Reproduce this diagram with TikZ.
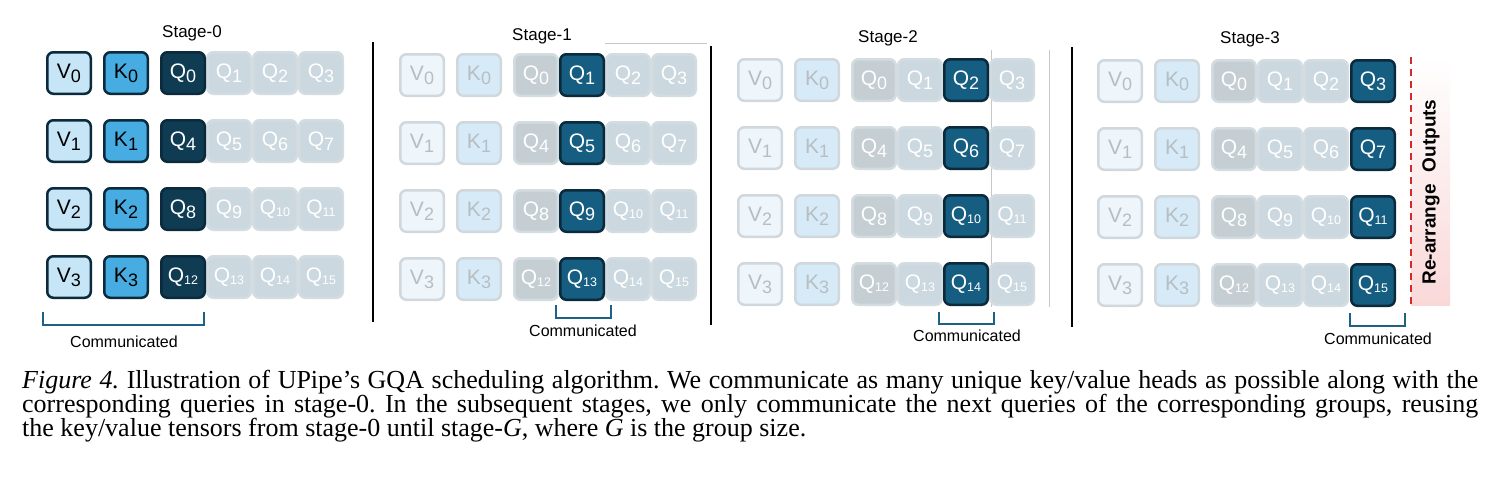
\documentclass[tikz,border=0pt]{standalone}
\usepackage{fontspec}
\setmainfont{Liberation Serif}
\newfontfamily\diagfont{Liberation Sans}
\usetikzlibrary{positioning}

\definecolor{edgedark}{HTML}{0B2B3C}
\definecolor{vfillc}{HTML}{C6E6F7}
\definecolor{kfillc}{HTML}{47ACE2}
\definecolor{qfirstc}{HTML}{0F3C52}
\definecolor{qnowc}{HTML}{165E81}
\definecolor{voldc}{HTML}{EEF6FB}
\definecolor{koldc}{HTML}{D6EBF7}
\definecolor{olddrawc}{HTML}{D0D8DD}
\definecolor{qolddrawc}{HTML}{D3DCE1}
\definecolor{oldtextc}{HTML}{B7BEC2}
\definecolor{qgrayc}{HTML}{C5CED3}
\definecolor{qpalec}{HTML}{CBD8DF}
\definecolor{bracec}{HTML}{1F6185}
\definecolor{outredc}{HTML}{D42A2A}
\definecolor{outpinkc}{HTML}{FAD8D8}

\newcommand\hsub[2]{#1\raisebox{-4pt}{\fontsize{18}{18}\selectfont#2}}
\newcommand\hsubb[2]{#1\raisebox{-2pt}{\fontsize{12.5}{12.5}\selectfont#2}}

\tikzset{
  head/.style={rounded corners=6pt, minimum width=43.5pt, minimum height=41.5pt,
    inner sep=0pt, line width=2.5pt, font=\diagfont\fontsize{21}{21}\selectfont},
  vnew/.style={head, fill=vfillc, draw=edgedark},
  knew/.style={head, fill=kfillc, draw=edgedark},
  qfirst/.style={head, fill=qfirstc, draw=edgedark, text=white},
  qnow/.style={head, fill=qnowc, draw=edgedark, text=white},
  vold/.style={head, fill=voldc, draw=olddrawc, text=oldtextc},
  kold/.style={head, fill=koldc, draw=olddrawc, text=oldtextc},
  qgray/.style={head, fill=qgrayc, draw=qolddrawc, text=white},
  qpale/.style={head, fill=qpalec, draw=qolddrawc, text=white},
  stagetitle/.style={anchor=base, font=\diagfont\fontsize{17}{17}\selectfont},
  commlabel/.style={anchor=base, font=\diagfont\fontsize{16}{16}\selectfont},
  commbrace/.style={draw=bracec, line width=2pt},
  stagesep/.style={line width=2.5pt},
  faint/.style={line width=0.8pt, black!22}
}

\begin{document}
\begin{tikzpicture}[x=1pt, y=-1pt]
\useasboundingbox (0,0) rectangle (1491,480);

% separators and stray guide lines
\draw[stagesep] (373,42) -- (373,322);
\draw[stagesep] (711,46) -- (711,325);
\draw[stagesep] (1072,47) -- (1072,327);
\draw[faint] (605,43) -- (707,43);
\draw[faint] (991,50) -- (991,307);
\draw[faint] (1049,50) -- (1049,307);

% titles
\node[stagetitle] (t0) at (192,37) {Stage-0};
\node[stagetitle] (t1) at (542,40) {Stage-1};
\node[stagetitle] (t2) at (888,42) {Stage-2};
\node[stagetitle] (t3) at (1250,43) {Stage-3};

% stage 0
\begin{scope}[shift={(69,73)}]
\node[vnew] (s0v0) at (0,0) {\hsub{V}{0}};
\node[knew] (s0k0) at (57,0) {\hsub{K}{0}};
\node[qpale] (s0q1) at (160,0) {\hsub{Q}{1}};
\node[qpale] (s0q2) at (206,0) {\hsub{Q}{2}};
\node[qpale] (s0q3) at (252,0) {\hsub{Q}{3}};
\node[qfirst] (s0q0) at (114,0) {\hsub{Q}{0}};

\node[vnew] (s0v1) at (0,68) {\hsub{V}{1}};
\node[knew] (s0k1) at (57,68) {\hsub{K}{1}};
\node[qpale] (s0q5) at (160,68) {\hsub{Q}{5}};
\node[qpale] (s0q6) at (206,68) {\hsub{Q}{6}};
\node[qpale] (s0q7) at (252,68) {\hsub{Q}{7}};
\node[qfirst] (s0q4) at (114,68) {\hsub{Q}{4}};

\node[vnew] (s0v2) at (0,136) {\hsub{V}{2}};
\node[knew] (s0k2) at (57,136) {\hsub{K}{2}};
\node[qpale] (s0q9) at (160,136) {\hsub{Q}{9}};
\node[qpale] (s0q10) at (206,136) {\hsubb{Q}{10}};
\node[qpale] (s0q11) at (252,136) {\hsubb{Q}{11}};
\node[qfirst] (s0q8) at (114,136) {\hsub{Q}{8}};

\node[vnew] (s0v3) at (0,204) {\hsub{V}{3}};
\node[knew] (s0k3) at (57,204) {\hsub{K}{3}};
\node[qpale] (s0q13) at (160,204) {\hsubb{Q}{13}};
\node[qpale] (s0q14) at (206,204) {\hsubb{Q}{14}};
\node[qpale] (s0q15) at (252,204) {\hsubb{Q}{15}};
\node[qfirst] (s0q12) at (114,204) {\hsubb{Q}{12}};
\end{scope}

% stage 1
\begin{scope}[shift={(422,75)}]
\node[vold] (s1v0) at (0,0) {\hsub{V}{0}};
\node[kold] (s1k0) at (57,0) {\hsub{K}{0}};
\node[qgray] (s1q0) at (114,0) {\hsub{Q}{0}};
\node[qpale] (s1q2) at (206,0) {\hsub{Q}{2}};
\node[qpale] (s1q3) at (252,0) {\hsub{Q}{3}};
\node[qnow] (s1q1) at (160,0) {\hsub{Q}{1}};

\node[vold] (s1v1) at (0,68) {\hsub{V}{1}};
\node[kold] (s1k1) at (57,68) {\hsub{K}{1}};
\node[qgray] (s1q4) at (114,68) {\hsub{Q}{4}};
\node[qpale] (s1q6) at (206,68) {\hsub{Q}{6}};
\node[qpale] (s1q7) at (252,68) {\hsub{Q}{7}};
\node[qnow] (s1q5) at (160,68) {\hsub{Q}{5}};

\node[vold] (s1v2) at (0,136) {\hsub{V}{2}};
\node[kold] (s1k2) at (57,136) {\hsub{K}{2}};
\node[qgray] (s1q8) at (114,136) {\hsub{Q}{8}};
\node[qpale] (s1q10) at (206,136) {\hsubb{Q}{10}};
\node[qpale] (s1q11) at (252,136) {\hsubb{Q}{11}};
\node[qnow] (s1q9) at (160,136) {\hsub{Q}{9}};

\node[vold] (s1v3) at (0,204) {\hsub{V}{3}};
\node[kold] (s1k3) at (57,204) {\hsub{K}{3}};
\node[qgray] (s1q12) at (114,204) {\hsubb{Q}{12}};
\node[qpale] (s1q14) at (206,204) {\hsubb{Q}{14}};
\node[qpale] (s1q15) at (252,204) {\hsubb{Q}{15}};
\node[qnow] (s1q13) at (160,204) {\hsubb{Q}{13}};
\end{scope}

% stage 2
\begin{scope}[shift={(760,80)}]
\node[vold] (s2v0) at (0,0) {\hsub{V}{0}};
\node[kold] (s2k0) at (57,0) {\hsub{K}{0}};
\node[qgray] (s2q0) at (114,0) {\hsub{Q}{0}};
\node[qpale] (s2q1) at (160,0) {\hsub{Q}{1}};
\node[qpale] (s2q3) at (252,0) {\hsub{Q}{3}};
\node[qnow] (s2q2) at (206,0) {\hsub{Q}{2}};

\node[vold] (s2v1) at (0,68) {\hsub{V}{1}};
\node[kold] (s2k1) at (57,68) {\hsub{K}{1}};
\node[qgray] (s2q4) at (114,68) {\hsub{Q}{4}};
\node[qpale] (s2q5) at (160,68) {\hsub{Q}{5}};
\node[qpale] (s2q7) at (252,68) {\hsub{Q}{7}};
\node[qnow] (s2q6) at (206,68) {\hsub{Q}{6}};

\node[vold] (s2v2) at (0,136) {\hsub{V}{2}};
\node[kold] (s2k2) at (57,136) {\hsub{K}{2}};
\node[qgray] (s2q8) at (114,136) {\hsub{Q}{8}};
\node[qpale] (s2q9) at (160,136) {\hsub{Q}{9}};
\node[qpale] (s2q11) at (252,136) {\hsubb{Q}{11}};
\node[qnow] (s2q10) at (206,136) {\hsubb{Q}{10}};

\node[vold] (s2v3) at (0,204) {\hsub{V}{3}};
\node[kold] (s2k3) at (57,204) {\hsub{K}{3}};
\node[qgray] (s2q12) at (114,204) {\hsubb{Q}{12}};
\node[qpale] (s2q13) at (160,204) {\hsubb{Q}{13}};
\node[qpale] (s2q15) at (252,204) {\hsubb{Q}{15}};
\node[qnow] (s2q14) at (206,204) {\hsubb{Q}{14}};
\end{scope}

% stage 3
\begin{scope}[shift={(1120,81)}]
\node[vold] (s3v0) at (0,0) {\hsub{V}{0}};
\node[kold] (s3k0) at (57,0) {\hsub{K}{0}};
\node[qgray] (s3q0) at (114,0) {\hsub{Q}{0}};
\node[qpale] (s3q1) at (160,0) {\hsub{Q}{1}};
\node[qpale] (s3q2) at (206,0) {\hsub{Q}{2}};
\node[qnow] (s3q3) at (253,0) {\hsub{Q}{3}};

\node[vold] (s3v1) at (0,68) {\hsub{V}{1}};
\node[kold] (s3k1) at (57,68) {\hsub{K}{1}};
\node[qgray] (s3q4) at (114,68) {\hsub{Q}{4}};
\node[qpale] (s3q5) at (160,68) {\hsub{Q}{5}};
\node[qpale] (s3q6) at (206,68) {\hsub{Q}{6}};
\node[qnow] (s3q7) at (253,68) {\hsub{Q}{7}};

\node[vold] (s3v2) at (0,136) {\hsub{V}{2}};
\node[kold] (s3k2) at (57,136) {\hsub{K}{2}};
\node[qgray] (s3q8) at (114,136) {\hsub{Q}{8}};
\node[qpale] (s3q9) at (160,136) {\hsub{Q}{9}};
\node[qpale] (s3q10) at (206,136) {\hsubb{Q}{10}};
\node[qnow] (s3q11) at (253,136) {\hsubb{Q}{11}};

\node[vold] (s3v3) at (0,204) {\hsub{V}{3}};
\node[kold] (s3k3) at (57,204) {\hsub{K}{3}};
\node[qgray] (s3q12) at (114,204) {\hsubb{Q}{12}};
\node[qpale] (s3q13) at (160,204) {\hsubb{Q}{13}};
\node[qpale] (s3q14) at (206,204) {\hsubb{Q}{14}};
\node[qnow] (s3q15) at (253,204) {\hsubb{Q}{15}};
\end{scope}

% communicated brackets
\draw[commbrace] (43,312) |- (204,325) -- (204,312);
\draw[commbrace] (556,305) |- (611,318) -- (611,305);
\draw[commbrace] (939,312) |- (994,324) -- (994,312);
\draw[commbrace] (1350,313) |- (1405,326) -- (1405,313);
\node[commlabel] (c0) at (124,347) {Communicated};
\node[commlabel] (c1) at (583,336) {Communicated};
\node[commlabel] (c2) at (967,341) {Communicated};
\node[commlabel] (c3) at (1378,344) {Communicated};

% output re-arrangement
\shade[top color=white, bottom color=outpinkc] (1411,57) rectangle (1450,305);
\draw[outredc, line width=2.5pt, dash pattern=on 7pt off 5pt] (1411,57) -- (1411,305);
\node[rotate=90, font=\diagfont\bfseries\fontsize{19}{19}\selectfont] (rearr) at (1431,192)
  {Re-arrange\hspace{12pt}Outputs};

% caption
\node[anchor=north west, inner sep=0pt, text width=1456pt, align=justify,
  font=\fontsize{26}{24}\selectfont] (caption) at (22,370)
  {\frenchspacing\textit{Figure 4.} Illustration of UPipe's GQA scheduling algorithm. We communicate as many unique key/value heads as possible along with the\linebreak
  corresponding queries in stage-0. In the subsequent stages, we only communicate the next queries of the corresponding groups, reusing\linebreak
  the key/value tensors from stage-0 until stage-\textit{G}, where \textit{G} is the group size.\par};

\end{tikzpicture}
\end{document}
